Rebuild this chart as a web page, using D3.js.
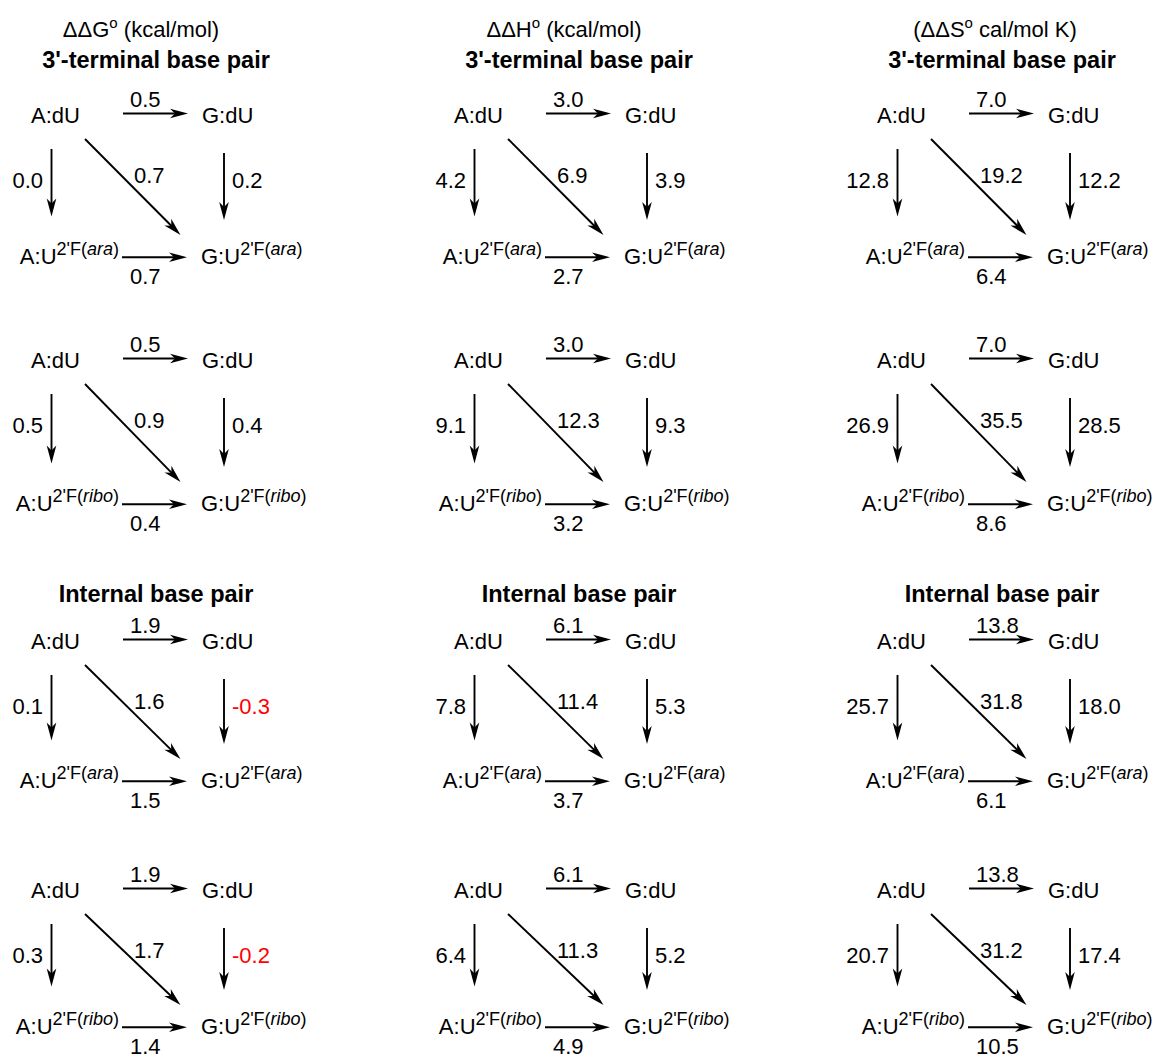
<!DOCTYPE html>
<html><head><meta charset="utf-8">
<script src="https://cdn.jsdelivr.net/npm/d3@7"></script>
<style>body{margin:0;background:#fff}svg{display:block}</style>
</head><body><svg id="c" width="1157" height="1060"></svg>
<script>
// ---------- data ----------
const columnTitleLead = ["ΔΔG", "ΔΔH", "(ΔΔS"];
const columnTitleTail = [" (kcal/mol)", " (kcal/mol)", " cal/mol K)"];
const sectionTitles = ["3'-terminal base pair", "", "Internal base pair", ""];
const topNodes = ["A:dU", "G:dU"];
const bottomNodes = ["A:U", "G:U"];
const sugarLabel = ["ara", "ribo", "ara", "ribo"];
const edgeNames = ["top", "left", "diag", "right", "bottom"];
// values per block: [top, left, diagonal, right, bottom]
const ddG = [[0.5, 0.0, 0.7, 0.2, 0.7], [0.5, 0.5, 0.9, 0.4, 0.4], [1.9, 0.1, 1.6, -0.3, 1.5], [1.9, 0.3, 1.7, -0.2, 1.4]];
const ddH = [[3.0, 4.2, 6.9, 3.9, 2.7], [3.0, 9.1, 12.3, 9.3, 3.2], [6.1, 7.8, 11.4, 5.3, 3.7], [6.1, 6.4, 11.3, 5.2, 4.9]];
const ddS = [[7.0, 12.8, 19.2, 12.2, 6.4], [7.0, 26.9, 35.5, 28.5, 8.6], [13.8, 25.7, 31.8, 18.0, 6.1], [13.8, 20.7, 31.2, 17.4, 10.5]];
const columns = [ddG, ddH, ddS];

// ---------- layout ----------
const svg = d3.select("#c");
const FONT = "'Liberation Sans', Arial, Helvetica, sans-serif";
const FS = 22;
const SUP = 18;
const colX = d3.scalePoint().domain([0, 1, 2]).range([0, 846]);
const rowTop = d3.scaleOrdinal().domain([0, 1, 2, 3]).range([123, 368, 649, 898]);
const rowBottom = d3.scaleOrdinal().domain([0, 1, 2, 3]).range([264, 511, 788, 1034]);
const fmt = v => v.toFixed(1);

function arrow(g, x1, y1, x2, y2) {
  const ang = Math.atan2(y2 - y1, x2 - x1);
  const L = 12;
  g.append("line")
    .attr("x1", x1).attr("y1", y1)
    .attr("x2", x2 - L * Math.cos(ang)).attr("y2", y2 - L * Math.sin(ang))
    .attr("stroke", "#000").attr("stroke-width", 1.9);
  g.append("path")
    .attr("d", "M0,0L-18,-4.8L-13,0L-18,4.8Z")
    .attr("transform", `translate(${x2},${y2}) rotate(${ang * 180 / Math.PI})`)
    .attr("fill", "#000");
}

function label(g, x, y, v, anchor) {
  g.append("text")
    .attr("x", x).attr("y", y)
    .attr("text-anchor", anchor)
    .attr("font-family", FONT).attr("font-size", FS)
    .attr("fill", v < 0 ? "#ff0000" : "#000")
    .text(fmt(v));
}

function modNode(g, x, y, base, sugar, anchor) {
  const t = g.append("text")
    .attr("x", x).attr("y", y)
    .attr("text-anchor", anchor)
    .attr("font-family", FONT).attr("font-size", FS).attr("fill", "#000");
  t.append("tspan").text(base);
  t.append("tspan").attr("font-size", SUP).attr("dy", -9).text("2'F(");
  t.append("tspan").attr("font-size", SUP).attr("font-style", "italic").text(sugar);
  t.append("tspan").attr("font-size", SUP).text(")");
}

columns.forEach((blocks, c) => {
  const cx = colX(c);
  const g = svg.append("g").attr("transform", `translate(${cx},0)`);

  // column header
  const h = g.append("text")
    .attr("x", c === 2 ? 149 : 141).attr("y", 37)
    .attr("text-anchor", "middle")
    .attr("font-family", FONT).attr("font-size", FS).attr("fill", "#000");
  h.append("tspan").text(columnTitleLead[c]);
  h.append("tspan").attr("font-size", 15).attr("dy", -9).text("o");
  h.append("tspan").attr("dy", 9).text(columnTitleTail[c]);

  blocks.forEach((vals, b) => {
    const Y = rowTop(b), B = rowBottom(b);
    const bg = g.append("g");

    if (sectionTitles[b]) {
      bg.append("text")
        .attr("x", 156).attr("y", b === 0 ? 68 : 602)
        .attr("text-anchor", "middle")
        .attr("font-family", FONT).attr("font-size", 23.5).attr("font-weight", "bold")
        .attr("fill", "#000")
        .text(sectionTitles[b]);
    }

    // nodes
    bg.append("text").attr("x", 31).attr("y", Y)
      .attr("font-family", FONT).attr("font-size", FS).attr("fill", "#000").text(topNodes[0]);
    bg.append("text").attr("x", 202).attr("y", Y)
      .attr("font-family", FONT).attr("font-size", FS).attr("fill", "#000").text(topNodes[1]);
    modNode(bg, 119, B, bottomNodes[0], sugarLabel[b], "end");
    modNode(bg, 201, B, bottomNodes[1], sugarLabel[b], "start");

    // arrows
    arrow(bg, 123, Y - 9.5, 188, Y - 9.5);           // top
    arrow(bg, 51.5, Y + 26, 51.5, B - 47.5);         // left
    arrow(bg, 85, Y + 16, 180.5, B - 29);            // diagonal
    arrow(bg, 224, Y + 30, 224, B - 44);             // right
    arrow(bg, 122, B - 6.8, 187, B - 6.8);           // bottom

    // values
    label(bg, 130, Y - 16, vals[0], "start");
    label(bg, 43, Y + 65, vals[1], "end");
    label(bg, 134, Y + 60, vals[2], "start");
    label(bg, 232, Y + 65, vals[3], "start");
    label(bg, 130, B + 20, vals[4], "start");
  });
});
</script>
</body></html>
